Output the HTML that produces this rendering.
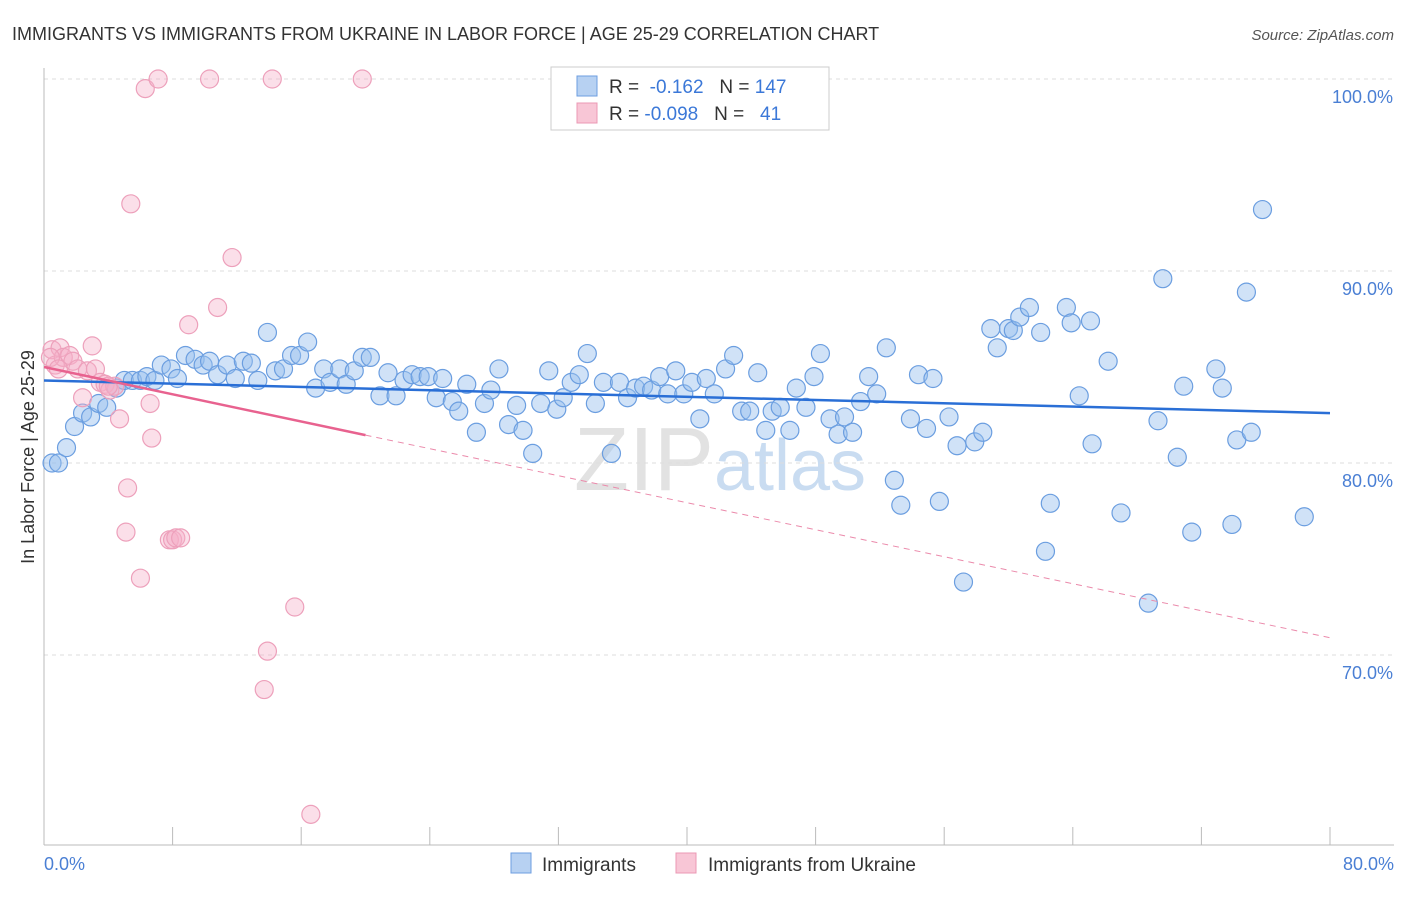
<!DOCTYPE html>
<html><head><meta charset="utf-8"><style>
body{margin:0;background:#fff;font-family:"Liberation Sans",sans-serif;}
svg text{font-family:"Liberation Sans",sans-serif;}
</style></head><body>
<svg id="chart" width="1406" height="892" viewBox="0 0 1406 892" xmlns="http://www.w3.org/2000/svg">
<text x="12" y="40" font-size="18" fill="#333">IMMIGRANTS VS IMMIGRANTS FROM UKRAINE IN LABOR FORCE | AGE 25-29 CORRELATION CHART</text>
<text x="1394" y="40" font-size="15" fill="#555" font-style="italic" text-anchor="end">Source: ZipAtlas.com</text>
<text x="720" y="490" font-size="90" fill="#e2e2e2" text-anchor="middle" font-family="Liberation Serif"><tspan>ZIP</tspan><tspan fill="#c9dcf1" font-family="Liberation Sans" font-size="72">atlas</tspan></text>
<g id="grid"></g>
<line x1="44" y1="68" x2="44" y2="845" stroke="#bbb"/>
<line x1="44" y1="845" x2="1394" y2="845" stroke="#bbb"/>
<g id="xticks"></g>
<text transform="translate(34,457) rotate(-90)" font-size="18" fill="#333" text-anchor="middle">In Labor Force | Age 25-29</text>
<text x="44" y="870" font-size="18" fill="#4a7fd4">0.0%</text>
<text x="1394" y="870" font-size="18" fill="#4a7fd4" text-anchor="end">80.0%</text>
<g id="points"></g>
<g id="trends"></g>
<g>
<rect x="551" y="67" width="278" height="63" fill="#fff" stroke="#ccc"/>
<rect x="577" y="76" width="20" height="20" fill="#b7d1f2" stroke="#6d9ee0"/>
<rect x="577" y="103" width="20" height="20" fill="#f8c6d6" stroke="#eb98b4"/>
<text x="609" y="93" font-size="19" fill="#333">R = <tspan fill="#3b78d8">&#160;-0.162</tspan>&#160;&#160;&#160;N = <tspan fill="#3b78d8">147</tspan></text>
<text x="609" y="120" font-size="19" fill="#333">R = <tspan fill="#3b78d8">-0.098</tspan>&#160;&#160;&#160;N = <tspan fill="#3b78d8">&#160;&#160;41</tspan></text>
</g>
<g>
<rect x="511" y="853" width="20" height="20" fill="#b7d1f2" stroke="#6d9ee0"/>
<text x="542" y="871" font-size="19" fill="#333">Immigrants</text>
<rect x="676" y="853" width="20" height="20" fill="#f8c6d6" stroke="#eb98b4"/>
<text x="708" y="871" font-size="19" fill="#333">Immigrants from Ukraine</text>
</g>
</svg>
<script>
const yTicks=[100,90,80,70];
const yTickLabels=["100.0%","90.0%","80.0%","70.0%"];
const xTicks=[0,8,16,24,32,40,48,56,64,72,80];
const blueX=[0.5,0.9,1.4,1.9,2.4,2.9,3.4,3.9,4.5,5.0,5.5,6.0,6.4,6.9,7.3,7.9,8.3,8.8,9.4,9.9,10.3,10.8,11.4,11.9,12.4,12.9,13.3,13.9,14.4,14.9,15.4,15.9,16.4,16.9,17.4,17.8,18.4,18.8,19.3,19.8,20.3,20.9,21.4,21.9,22.4,22.9,23.4,23.9,24.4,24.8,25.4,25.8,26.3,26.9,27.4,27.8,28.3,28.9,29.4,29.8,30.4,30.9,31.4,31.9,32.3,32.8,33.3,33.8,34.3,34.8,35.3,35.8,36.3,36.8,37.3,37.8,38.3,38.8,39.3,39.8,40.3,40.8,41.2,41.7,42.4,42.9,43.4,43.9,44.4,44.9,45.3,45.8,46.4,46.8,47.4,47.9,48.3,48.9,49.4,49.8,50.3,50.8,51.3,51.8,52.4,52.9,53.3,53.9,54.4,54.9,55.3,55.7,56.3,56.8,57.2,57.9,58.4,58.9,59.3,60.0,60.3,60.7,61.3,62.0,62.3,62.6,63.6,63.9,64.4,65.1,65.2,66.2,67.0,68.7,69.3,69.6,70.5,70.9,71.4,72.9,73.3,73.9,74.2,74.8,75.1,75.8,78.4];
const blueY=[80.0,80.0,80.8,81.9,82.6,82.4,83.1,82.9,83.9,84.3,84.3,84.3,84.5,84.3,85.1,84.9,84.4,85.6,85.4,85.1,85.3,84.6,85.1,84.4,85.3,85.2,84.3,86.8,84.8,84.9,85.6,85.6,86.3,83.9,84.9,84.2,84.9,84.1,84.8,85.5,85.5,83.5,84.7,83.5,84.3,84.6,84.5,84.5,83.4,84.4,83.2,82.7,84.1,81.6,83.1,83.8,84.9,82.0,83.0,81.7,80.5,83.1,84.8,82.8,83.4,84.2,84.6,85.7,83.1,84.2,80.5,84.2,83.4,83.9,84.0,83.8,84.5,83.6,84.8,83.6,84.2,82.3,84.4,83.6,84.9,85.6,82.7,82.7,84.7,81.7,82.7,82.9,81.7,83.9,82.9,84.5,85.7,82.3,81.5,82.4,81.6,83.2,84.5,83.6,86.0,79.1,77.8,82.3,84.6,81.8,84.4,78.0,82.4,80.9,73.8,81.1,81.6,87.0,86.0,87.0,86.9,87.6,88.1,86.8,75.4,77.9,88.1,87.3,83.5,87.4,81.0,85.3,77.4,72.7,82.2,89.6,80.3,84.0,76.4,84.9,83.9,76.8,81.2,88.9,81.6,93.2,77.2];
const pinkX=[0.5,0.7,1.0,1.2,1.6,1.8,2.1,2.4,2.7,3.0,3.2,3.5,3.8,4.1,4.4,4.7,5.1,5.2,5.4,6.0,6.3,6.6,6.7,7.1,7.8,8.0,8.2,8.5,9.0,10.3,10.8,11.7,13.7,13.9,14.2,15.6,16.6,19.8,0.4,0.9,4.0];
const pinkY=[85.9,85.1,86.0,85.5,85.6,85.3,84.9,83.4,84.8,86.1,84.9,84.2,84.1,83.8,84.0,82.3,76.4,78.7,93.5,74.0,99.5,83.1,81.3,100,76.0,76.0,76.1,76.1,87.2,100,88.1,90.7,68.2,70.2,100,72.5,61.7,100,85.5,84.9,84.0];
const blueTrend=[[0,84.3],[80,82.6]];
const pinkTrend=[[0,85.0],[20,81.45],[80,70.9]];
const NS="http://www.w3.org/2000/svg";
const sx=v=>44+v/80*1286;
const sy=v=>79+(100-v)*19.2;
function mk(tag,attrs,parent){const e=document.createElementNS(NS,tag);for(const k in attrs)e.setAttribute(k,attrs[k]);parent.appendChild(e);return e;}
const grid=document.getElementById('grid');
yTicks.forEach((t,i)=>{
  const l=mk('line',{x1:44,x2:1394,y1:sy(t),y2:sy(t),stroke:'#ddd','stroke-dasharray':'4,4'},grid);
  
  
  const tx=mk('text',{x:1393,y:sy(t)+24,'font-size':18,fill:'#4a7fd4','text-anchor':'end'},grid);
  tx.textContent=yTickLabels[i];
  
  
});
const xt=document.getElementById('xticks');
xTicks.forEach(t=>{
  const l=mk('line',{x1:sx(t),x2:sx(t),y1:827,y2:845,stroke:'#bbb'},xt);
  
  
});
const pts=document.getElementById('points');
blueX.forEach((x,i)=>{
  const c=mk('circle',{cx:sx(x),cy:sy(blueY[i]),r:9,fill:'rgba(150,190,238,0.45)',stroke:'#6b9ee0','stroke-width':1.2},pts);
  
  
});
pinkX.forEach((x,i)=>{
  const c=mk('circle',{cx:sx(x),cy:sy(pinkY[i]),r:9,fill:'rgba(246,175,200,0.4)',stroke:'#eda0bb','stroke-width':1.2},pts);
  
  
});
const tr=document.getElementById('trends');
const bl=mk('line',{x1:sx(blueTrend[0][0]),y1:sy(blueTrend[0][1]),x2:sx(blueTrend[1][0]),y2:sy(blueTrend[1][1]),stroke:'#2a6fd6','stroke-width':2.5},tr);


const ps=mk('line',{x1:sx(pinkTrend[0][0]),y1:sy(pinkTrend[0][1]),x2:sx(pinkTrend[1][0]),y2:sy(pinkTrend[1][1]),stroke:'#e8628f','stroke-width':2.5},tr);


const pd=mk('line',{x1:sx(pinkTrend[1][0]),y1:sy(pinkTrend[1][1]),x2:sx(pinkTrend[2][0]),y2:sy(pinkTrend[2][1]),stroke:'#eb8aab','stroke-width':1,'stroke-dasharray':'6,5'},tr);


</script>
</body></html>
